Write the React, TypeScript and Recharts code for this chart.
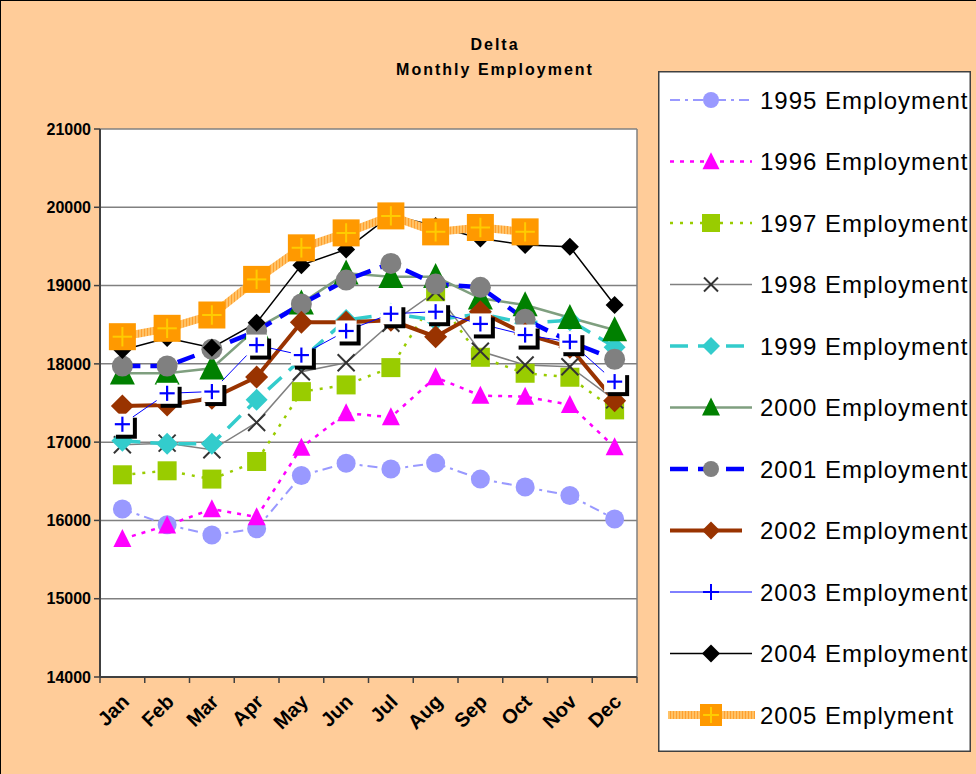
import React from 'react';
import { LineChart, Line, XAxis, YAxis, CartesianGrid } from 'recharts';

const months = ['Jan', 'Feb', 'Mar', 'Apr', 'May', 'Jun', 'Jul', 'Aug', 'Sep', 'Oct', 'Nov', 'Dec'];
const yTicks = [14000, 15000, 16000, 17000, 18000, 19000, 20000, 21000];

const e1995 = [16145, 15945, 15814, 15894, 16574, 16730, 16656, 16732, 16528, 16426, 16319, 16018];
const e1996 = [15763, 15936, 16145, 16043, 16931, 17370, 17319, 17829, 17594, 17582, 17476, 16936];
const e1997 = [16583, 16634, 16528, 16753, 17645, 17731, 17952, 18857, 18084, 17880, 17829, 17412];
const e1998 = [16966, 16987, 16902, 17250, 17900, 18015, 18518, 18921, 18160, 17986, 17964, 17540];
const e1999 = [17017, 16978, 16978, 17540, 18060, 18560, 18640, 18560, 18640, 18520, 18556, 18213];
const e2000 = [17880, 17880, 17944, 18454, 18773, 19156, 19112, 19112, 18837, 18751, 18589, 18432];
const e2001 = [17973, 17973, 18186, 18420, 18764, 19070, 19283, 19019, 18977, 18569, 18283, 18059];
const e2002 = [17463, 17476, 17561, 17832, 18533, 18530, 18556, 18347, 18666, 18380, 18213, 17530];
const e2003 = [17229, 17624, 17646, 18240, 18112, 18420, 18640, 18666, 18510, 18368, 18283, 17773];
const e2004 = [18177, 18330, 18207, 18526, 19261, 19462, 19900, 19760, 19602, 19517, 19495, 18751];
const e2005 = [18347, 18454, 18624, 19079, 19482, 19673, 19890, 19686, 19742, 19686, null, null];

const data = months.map((m, i) => ({
  month: m,
  e1995: e1995[i], e1996: e1996[i], e1997: e1997[i], e1998: e1998[i],
  e1999: e1999[i], e2000: e2000[i], e2001: e2001[i], e2002: e2002[i],
  e2003: e2003[i], e2004: e2004[i], e2005: e2005[i],
}));

const W = 976;
const H = 774;
const PLOT_LEFT = 100;
const PLOT_RIGHT = 637;
const PLOT_TOP = 129;
const PLOT_BOTTOM = 677;
const X_AXIS_H = 30;
const Y_AXIS_W = 60;
const BAND = (PLOT_RIGHT - PLOT_LEFT) / months.length;
const FONT = '"Liberation Sans", Arial, Helvetica, sans-serif';

type Mk = (cx: number, cy: number, s: number) => React.ReactElement;

const circle = (fill: string): Mk => (cx, cy, s) => <circle cx={cx} cy={cy} r={s / 2} fill={fill} />;
const triangle = (fill: string): Mk => (cx, cy, s) => (
  <polygon points={`${cx},${cy - s * 0.55} ${cx + s / 2},${cy + s * 0.45} ${cx - s / 2},${cy + s * 0.45}`} fill={fill} />
);
const square = (fill: string): Mk => (cx, cy, s) => <rect x={cx - s / 2} y={cy - s / 2} width={s} height={s} fill={fill} />;
const diamond = (fill: string): Mk => (cx, cy, s) => (
  <polygon points={`${cx},${cy - s / 2} ${cx + s / 2},${cy} ${cx},${cy + s / 2} ${cx - s / 2},${cy}`} fill={fill} />
);
const cross = (stroke: string): Mk => (cx, cy, s) => (
  <g stroke={stroke} strokeWidth={2}>
    <line x1={cx - s / 2} y1={cy - s / 2} x2={cx + s / 2} y2={cy + s / 2} />
    <line x1={cx - s / 2} y1={cy + s / 2} x2={cx + s / 2} y2={cy - s / 2} />
  </g>
);
const plusBox: Mk = (cx, cy, s) => (
  <g>
    <rect x={cx - s / 2 + 4} y={cy - s / 2 + 4} width={s} height={s} fill="#000" />
    <rect x={cx - s / 2} y={cy - s / 2} width={s} height={s} fill="#fff" />
    <g stroke="#0000FF" strokeWidth={2.2}>
      <line x1={cx - s * 0.36} y1={cy} x2={cx + s * 0.36} y2={cy} />
      <line x1={cx} y1={cy - s * 0.36} x2={cx} y2={cy + s * 0.36} />
    </g>
  </g>
);
const plainPlus: Mk = (cx, cy, s) => (
  <g stroke="#0000FF" strokeWidth={2}>
    <line x1={cx - s / 2} y1={cy} x2={cx + s / 2} y2={cy} />
    <line x1={cx} y1={cy - s / 2} x2={cx} y2={cy + s / 2} />
  </g>
);
const orangeSquare: Mk = (cx, cy, s) => (
  <g>
    <rect x={cx - s / 2} y={cy - s / 2} width={s} height={s} fill="#FF9900" />
    <g stroke="#FFCC00" strokeWidth={2}>
      <line x1={cx - s * 0.36} y1={cy} x2={cx + s * 0.36} y2={cy} />
      <line x1={cx} y1={cy - s * 0.36} x2={cx} y2={cy + s * 0.36} />
    </g>
  </g>
);

type Series = {
  key: string; name: string; stroke: string; width: number; dash?: string;
  mk: Mk; size: number; lmk?: Mk; lsize: number; lx1?: number; lx2?: number;
};

const series: Series[] = [
  { key: 'e1995', name: '1995 Employment', stroke: '#9999FF', width: 2, dash: '10 5 3 5', mk: circle('#9999FF'), size: 19, lsize: 16 },
  { key: 'e1996', name: '1996 Employment', stroke: '#FF00FF', width: 2.5, dash: '4 6', mk: triangle('#FF00FF'), size: 18, lsize: 17 },
  { key: 'e1997', name: '1997 Employment', stroke: '#99CC00', width: 2.5, dash: '3 7', mk: square('#99CC00'), size: 19, lsize: 18 },
  { key: 'e1998', name: '1998 Employment', stroke: '#808080', width: 1.5, mk: cross('#333333'), size: 17, lsize: 14 },
  { key: 'e1999', name: '1999 Employment', stroke: '#33CCCC', width: 3.5, dash: '18 10', mk: diamond('#33CCCC'), size: 22, lsize: 18 },
  { key: 'e2000', name: '2000 Employment', stroke: '#7F9F7F', width: 2.5, mk: triangle('#008000'), size: 25, lsize: 18 },
  { key: 'e2001', name: '2001 Employment', stroke: '#0000FF', width: 4.5, dash: '18 10', mk: circle('#808080'), size: 21, lsize: 16 },
  { key: 'e2002', name: '2002 Employment', stroke: '#993300', width: 4, mk: diamond('#993300'), size: 23, lsize: 18, lx2: 84 },
  { key: 'e2003', name: '2003 Employment', stroke: '#0000FF', width: 1, mk: plusBox, size: 21, lmk: plainPlus, lsize: 16 },
  { key: 'e2004', name: '2004 Employment', stroke: '#000000', width: 1.5, mk: diamond('#000000'), size: 18, lsize: 18 },
  { key: 'e2005', name: '2005 Emplyment', stroke: 'url(#stripes2005)', width: 8, mk: orangeSquare, size: 27, lsize: 22, lx1: 10, lx2: 97 },
];

const makeDot = (mk: Mk, size: number) => (p: any) => {
  if (p == null || p.cx == null || p.cy == null || p.value == null) return <g key={`n${p?.index}`} />;
  return <g key={`d${p.index}`}>{mk(p.cx, p.cy, size)}</g>;
};

const XTick = (props: any) => {
  const { x, y, payload, index } = props;
  const half = BAND / 2;
  return (
    <g>
      <line x1={x - half} x2={x - half} y1={y} y2={y + 6} stroke="#404040" strokeWidth={1.5} />
      {index === months.length - 1 && (
        <line x1={x + half} x2={x + half} y1={y} y2={y + 6} stroke="#404040" strokeWidth={1.5} />
      )}
      <text
        transform={`translate(${x + 3},${y + 21}) rotate(-45)`}
        textAnchor="end"
        dominantBaseline="central"
        fontFamily={FONT}
        fontWeight="bold"
        fontSize={20}
        fill="#000"
      >
        {payload.value}
      </text>
    </g>
  );
};

const LEG_X = 658;
const LEG_Y = 71;
const LEG_W = 313;
const LEG_H = 681;

const LegendBox = () => (
  <svg width={LEG_W} height={LEG_H} style={{ position: 'absolute', left: LEG_X, top: LEG_Y }}>
    <defs>
      <pattern id="stripes2005" patternUnits="userSpaceOnUse" width="3" height="3">
        <rect x="0" y="0" width="3" height="3" fill="#FFC266" />
        <rect x="0" y="0" width="1" height="3" fill="#FFA030" />
      </pattern>
    </defs>
    <rect x={0.75} y={0.75} width={LEG_W - 1.5} height={LEG_H - 1.5} fill="#fff" stroke="#404040" strokeWidth={1.5} />
    {series.map((s, i) => {
      const cy = 29 + i * 61.5;
      const mk = s.lmk || s.mk;
      return (
        <g key={s.key}>
          <line x1={s.lx1 ?? 12} x2={s.lx2 ?? 94} y1={cy} y2={cy} stroke={s.stroke} strokeWidth={s.width} strokeDasharray={s.dash} />
          {mk(53, cy, s.lsize)}
          <text x={102} y={cy} dominantBaseline="central" fontFamily={FONT} fontSize={24} letterSpacing={1} fill="#000">
            {s.name}
          </text>
        </g>
      );
    })}
  </svg>
);

export default function App() {
  return (
    <div style={{ position: 'absolute', left: 0, top: 0, width: W, height: H, background: '#FFCC99', overflow: 'hidden' }}>
      <div style={{ position: 'absolute', left: 0, top: 0, width: W, height: H, boxSizing: 'border-box', borderTop: '1px solid #000', borderLeft: '1px solid #000' }} />
      <div style={{ position: 'absolute', left: 0, width: 990, top: 32, textAlign: 'center', fontFamily: FONT, fontWeight: 'bold', fontSize: 16, lineHeight: '25px', color: '#000', letterSpacing: 2 }}>
        <div>Delta</div>
        <div>Monthly Employment</div>
      </div>
      <div style={{ position: 'absolute', left: 0, top: 0 }}>
        <LineChart
          width={W}
          height={H}
          data={data}
          margin={{ top: PLOT_TOP, right: W - PLOT_RIGHT, bottom: H - PLOT_BOTTOM - X_AXIS_H, left: PLOT_LEFT - Y_AXIS_W }}
        >
          <CartesianGrid
            fill="#fff"
            stroke="#808080"
            strokeWidth={1.5}
            horizontal={true}
            vertical={true}
            verticalCoordinatesGenerator={({ offset }: any) => [offset.left + offset.width]}
          />
          <XAxis
            dataKey="month"
            type="category"
            interval={0}
            padding={{ left: BAND / 2, right: BAND / 2 }}
            axisLine={{ stroke: '#404040', strokeWidth: 2 }}
            tickLine={false}
            tickSize={0}
            tickMargin={0}
            tick={<XTick />}
            height={X_AXIS_H}
          />
          <YAxis
            width={Y_AXIS_W}
            domain={[14000, 21000]}
            ticks={yTicks}
            interval={0}
            allowDataOverflow
            axisLine={{ stroke: '#404040', strokeWidth: 2 }}
            tickLine={{ stroke: '#404040', strokeWidth: 1.5 }}
            tickSize={6}
            tickMargin={3}
            tick={{ fill: '#000', fontFamily: FONT, fontWeight: 'bold', fontSize: 16 }}
          />
          {series.map((s) => (
            <Line
              key={s.key}
              dataKey={s.key}
              name={s.name}
              type="linear"
              stroke={s.stroke}
              strokeWidth={s.width}
              strokeDasharray={s.dash}
              dot={makeDot(s.mk, s.size)}
              activeDot={false}
              connectNulls={false}
              isAnimationActive={false}
            />
          ))}
        </LineChart>
      </div>
      <LegendBox />
    </div>
  );
}
